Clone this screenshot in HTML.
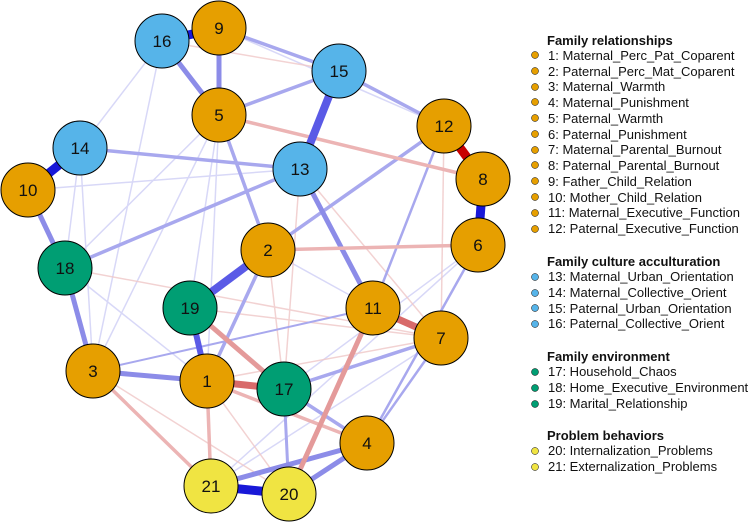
<!DOCTYPE html>
<html><head><meta charset="utf-8"><style>
html,body{margin:0;padding:0;background:#fff}
svg{display:block;font-family:"Liberation Sans",Arial,sans-serif}
</style></head><body>
<svg width="750" height="522" viewBox="0 0 750 522" xmlns="http://www.w3.org/2000/svg">
<g stroke-linecap="butt" fill="none">
<g stroke="#c8c8f5" stroke-width="1.5" opacity="0.7">
<line x1="162" y1="41" x2="80" y2="148"/>
<line x1="162" y1="41" x2="93" y2="371"/>
<line x1="219" y1="28" x2="444" y2="126"/>
<line x1="219" y1="115" x2="65" y2="268"/>
<line x1="219" y1="115" x2="190" y2="308"/>
<line x1="219" y1="115" x2="207" y2="381"/>
<line x1="80" y1="148" x2="93" y2="371"/>
<line x1="80" y1="148" x2="65" y2="268"/>
<line x1="28" y1="190" x2="300" y2="169"/>
<line x1="478" y1="245" x2="284" y2="389"/>
<line x1="478" y1="245" x2="211" y2="486"/>
<line x1="441" y1="338" x2="211" y2="486"/>
<line x1="268" y1="250" x2="373" y2="308"/>
<line x1="65" y1="268" x2="207" y2="381"/>
<line x1="93" y1="371" x2="219" y2="115"/>
</g>
<g stroke="#f0c8c8" stroke-width="1.5" opacity="0.8">
<line x1="162" y1="41" x2="339" y2="71"/>
<line x1="300" y1="169" x2="441" y2="338"/>
<line x1="300" y1="169" x2="284" y2="389"/>
<line x1="444" y1="126" x2="441" y2="338"/>
<line x1="65" y1="268" x2="441" y2="338"/>
<line x1="190" y1="308" x2="441" y2="338"/>
<line x1="268" y1="250" x2="284" y2="389"/>
<line x1="93" y1="371" x2="289" y2="494"/>
<line x1="207" y1="381" x2="441" y2="338"/>
<line x1="207" y1="381" x2="289" y2="494"/>
</g>
<g stroke="#a8a8ee" stroke-width="3.5">
<line x1="219" y1="28" x2="339" y2="71"/>
<line x1="339" y1="71" x2="219" y2="115"/>
<line x1="339" y1="71" x2="444" y2="126"/>
<line x1="219" y1="115" x2="268" y2="250"/>
<line x1="80" y1="148" x2="300" y2="169"/>
<line x1="300" y1="169" x2="65" y2="268"/>
<line x1="444" y1="126" x2="268" y2="250"/>
<line x1="444" y1="126" x2="373" y2="308" stroke-width="2.5"/>
<line x1="268" y1="250" x2="207" y2="381"/>
<line x1="284" y1="389" x2="441" y2="338"/>
<line x1="284" y1="389" x2="367" y2="443"/>
<line x1="284" y1="389" x2="289" y2="494" stroke-width="3"/>
<line x1="441" y1="338" x2="367" y2="443" stroke-width="2.5"/>
<line x1="478" y1="245" x2="367" y2="443" stroke-width="2.5"/>
<line x1="93" y1="371" x2="373" y2="308" stroke-width="2"/>
</g>
<g stroke="#8c8ce8" stroke-width="5">
<line x1="300" y1="169" x2="373" y2="308"/>
<line x1="65" y1="268" x2="93" y2="371"/>
<line x1="28" y1="190" x2="65" y2="268"/>
<line x1="93" y1="371" x2="207" y2="381"/>
<line x1="211" y1="486" x2="367" y2="443"/>
<line x1="289" y1="494" x2="367" y2="443"/>
<line x1="162" y1="41" x2="219" y2="115"/>
<line x1="219" y1="28" x2="219" y2="115"/>
</g>
<g stroke="#ecb4b4" stroke-width="3.5">
<line x1="219" y1="115" x2="483" y2="179"/>
<line x1="268" y1="250" x2="478" y2="245"/>
<line x1="93" y1="371" x2="211" y2="486"/>
<line x1="207" y1="381" x2="211" y2="486"/>
<line x1="207" y1="381" x2="367" y2="443"/>
</g>
<g stroke="#e49a9a" stroke-width="5">
<line x1="373" y1="308" x2="289" y2="494"/>
<line x1="190" y1="308" x2="284" y2="389"/>
</g>
<g stroke="#d86a6a" stroke-width="7">
<line x1="373" y1="308" x2="441" y2="338"/>
<line x1="207" y1="381" x2="284" y2="389"/>
</g>
<g stroke="#5a5ae6" stroke-width="8">
<line x1="339" y1="71" x2="300" y2="169"/>
<line x1="268" y1="250" x2="190" y2="308"/>
<line x1="190" y1="308" x2="207" y2="381" stroke-width="6"/>
</g>
<g stroke="#1818d8" stroke-width="9">
<line x1="162" y1="41" x2="219" y2="28"/>
<line x1="80" y1="148" x2="28" y2="190"/>
<line x1="483" y1="179" x2="478" y2="245"/>
<line x1="211" y1="486" x2="289" y2="494"/>
</g>
<line x1="444" y1="126" x2="483" y2="179" stroke="#c80000" stroke-width="9"/>
</g>
<g stroke="#000" stroke-width="1">
<g fill="#e69f00">
<circle cx="219" cy="28" r="27"/><circle cx="219" cy="115" r="27"/><circle cx="444" cy="126" r="27"/>
<circle cx="483" cy="179" r="27"/><circle cx="28" cy="190" r="27"/><circle cx="478" cy="245" r="27"/>
<circle cx="268" cy="250" r="27"/><circle cx="373" cy="308" r="27"/><circle cx="441" cy="338" r="27"/>
<circle cx="93" cy="371" r="27"/><circle cx="207" cy="381" r="27"/><circle cx="367" cy="443" r="27"/>
</g>
<g fill="#56b4e9">
<circle cx="162" cy="41" r="27"/><circle cx="339" cy="71" r="27"/><circle cx="80" cy="148" r="27"/><circle cx="300" cy="169" r="27"/>
</g>
<g fill="#009e73">
<circle cx="65" cy="268" r="27"/><circle cx="190" cy="308" r="27"/><circle cx="284" cy="389" r="27"/>
</g>
<g fill="#f0e442">
<circle cx="211" cy="486" r="27"/><circle cx="289" cy="494" r="27"/>
</g>
</g>
<g font-size="17" text-anchor="middle" fill="#111">
<text x="219" y="34">9</text><text x="219" y="121">5</text><text x="444" y="132">12</text>
<text x="483" y="185">8</text><text x="28" y="196">10</text><text x="478" y="251">6</text>
<text x="268" y="256">2</text><text x="373" y="314">11</text><text x="441" y="344">7</text>
<text x="93" y="377">3</text><text x="207" y="387">1</text><text x="367" y="449">4</text>
<text x="162" y="47">16</text><text x="339" y="77">15</text><text x="80" y="154">14</text><text x="300" y="175">13</text>
<text x="65" y="274">18</text><text x="190" y="314">19</text><text x="284" y="395">17</text>
<text x="211" y="492">21</text><text x="289" y="500">20</text>
</g>
<g font-size="13" fill="#111">
<g font-weight="bold">
<text x="547" y="45">Family relationships</text>
<text x="547" y="266">Family culture acculturation</text>
<text x="547" y="361">Family environment</text>
<text x="547" y="440">Problem behaviors</text>
</g>
<text x="548" y="60">1: Maternal_Perc_Pat_Coparent</text>
<text x="548" y="76">2: Paternal_Perc_Mat_Coparent</text>
<text x="548" y="91">3: Maternal_Warmth</text>
<text x="548" y="107">4: Maternal_Punishment</text>
<text x="548" y="123">5: Paternal_Warmth</text>
<text x="548" y="139">6: Paternal_Punishment</text>
<text x="548" y="154">7: Maternal_Parental_Burnout</text>
<text x="548" y="170">8: Paternal_Parental_Burnout</text>
<text x="548" y="186">9: Father_Child_Relation</text>
<text x="548" y="202">10: Mother_Child_Relation</text>
<text x="548" y="217">11: Maternal_Executive_Function</text>
<text x="548" y="233">12: Paternal_Executive_Function</text>
<text x="548" y="281">13: Maternal_Urban_Orientation</text>
<text x="548" y="297">14: Maternal_Collective_Orient</text>
<text x="548" y="313">15: Paternal_Urban_Orientation</text>
<text x="548" y="328">16: Paternal_Collective_Orient</text>
<text x="548" y="376">17: Household_Chaos</text>
<text x="548" y="392">18: Home_Executive_Environment</text>
<text x="548" y="408">19: Marital_Relationship</text>
<text x="548" y="455">20: Internalization_Problems</text>
<text x="548" y="471">21: Externalization_Problems</text>
</g>
<g stroke="#000" stroke-width="0.5">
<g fill="#e69f00">
<circle cx="535" cy="55" r="3.5"/><circle cx="535" cy="71" r="3.5"/><circle cx="535" cy="87" r="3.5"/><circle cx="535" cy="102" r="3.5"/>
<circle cx="535" cy="118" r="3.5"/><circle cx="535" cy="134" r="3.5"/><circle cx="535" cy="150" r="3.5"/><circle cx="535" cy="165" r="3.5"/>
<circle cx="535" cy="181" r="3.5"/><circle cx="535" cy="197" r="3.5"/><circle cx="535" cy="213" r="3.5"/><circle cx="535" cy="229" r="3.5"/>
</g>
<g fill="#56b4e9">
<circle cx="535" cy="277" r="3.5"/><circle cx="535" cy="293" r="3.5"/><circle cx="535" cy="308" r="3.5"/><circle cx="535" cy="324" r="3.5"/>
</g>
<g fill="#009e73">
<circle cx="535" cy="372" r="3.5"/><circle cx="535" cy="388" r="3.5"/><circle cx="535" cy="404" r="3.5"/>
</g>
<g fill="#f0e442">
<circle cx="535" cy="451" r="3.5"/><circle cx="535" cy="467" r="3.5"/>
</g>
</g>
</svg>
</body></html>
